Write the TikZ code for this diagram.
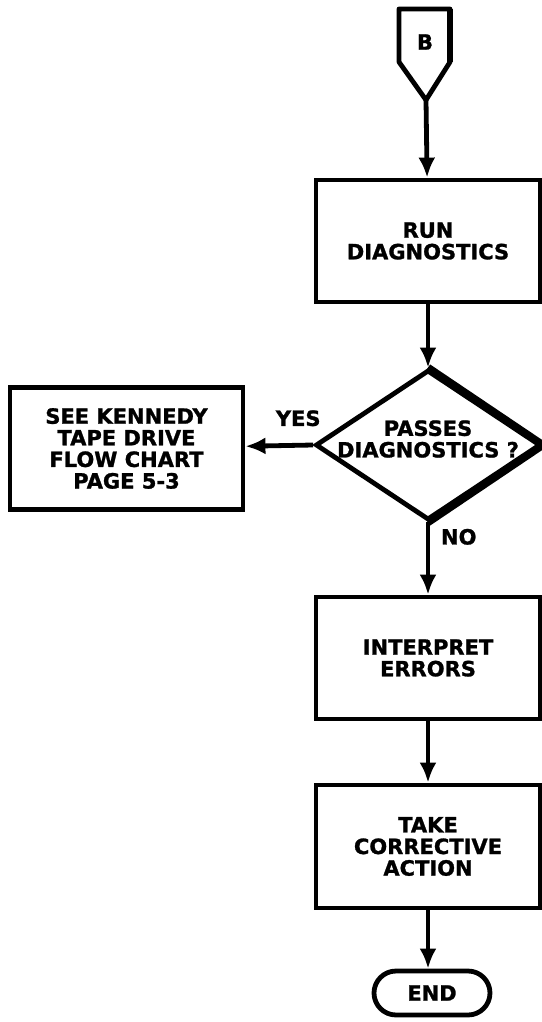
\documentclass[tikz,border=0pt]{standalone}
\usepackage{fontspec}
\setmainfont[BoldFeatures={FakeBold=1.2}]{DejaVu Sans}
\usetikzlibrary{arrows.meta, shapes.geometric, shapes.misc, positioning, math}
\newcommand{\chartfont}{\bfseries\fontsize{10.5}{10.8}\selectfont}

\begin{document}
\begin{tikzpicture}[x=0.5pt, y=-0.5pt,
  box/.style={draw, line width=2.4pt, minimum width=112pt, minimum height=61pt,
    align=center, inner sep=0pt, font=\chartfont},
  flow/.style={-{Latex[length=10pt,width=8.5pt]}, line width=2.4pt},
  tag/.style={font=\chartfont, align=center}]
\tikzmath{
\cx=428;
}
\useasboundingbox (0,0) rectangle (541,1022);

% off-page connector
\draw[line width=2.4pt, line join=round] (399,9) -- (450,9) -- (450,62) -- (\cx-2,100) -- (399,62) -- cycle;
\draw[line width=3.4pt] (450,9) -- (450,62);
\node[tag] (conB) at (\cx-3,42) {B};
\coordinate (conBtip) at (\cx-2,100);

\node[box] (run) at (\cx,241) {RUN\\DIAGNOSTICS};

\node[diamond, draw, line width=2.4pt, minimum width=112.5pt, minimum height=75pt, inner sep=0pt] (pass) at (\cx,445) {};
\draw[line width=3.8pt, line join=round] (pass.north) -- (pass.east) -- (pass.south);
\node[tag] (passtext) at (\cx,439) {PASSES\\DIAGNOSTICS ?};

\node[box, minimum width=116.5pt] (see) at (126.5,448.5) {SEE KENNEDY\\TAPE DRIVE\\FLOW CHART\\PAGE 5-3};

\node[box] (interp) at (\cx,658) {INTERPRET\\ERRORS};
\node[box, minimum height=61.5pt] (take) at (\cx,846.5) {TAKE\\CORRECTIVE\\ACTION};

\node[draw, line width=2.4pt, rounded rectangle, minimum width=58pt, minimum height=22pt, inner sep=0pt, font=\chartfont] (finish) at (\cx+4,993) {END};

\draw[flow] (conBtip) -- (run);
\draw[flow] (run) -- (pass);
\draw[flow] (pass.west) -- (see) node[pos=0.22, above=5pt, tag] (yes) {YES};
\draw[flow] (pass) -- (interp) node[pos=0.2, right=2pt, tag] (no) {NO};
\draw[flow] (interp) -- (take);
\draw[flow] (take) -- (take.south |- finish.north);
\end{tikzpicture}
\end{document}
